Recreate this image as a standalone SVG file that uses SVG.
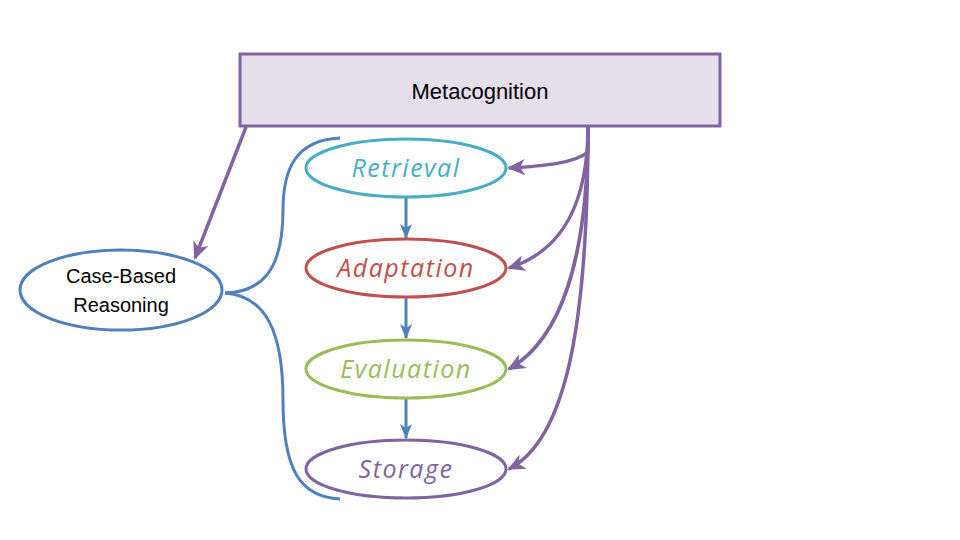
<svg xmlns="http://www.w3.org/2000/svg" width="960" height="540" viewBox="0 0 960 540">
<style>
.sans{font-family:"Liberation Sans",Arial,sans-serif;fill:#000;text-anchor:middle}
.script{font-family:"Open Sans","DejaVu Sans",sans-serif;font-style:italic;font-size:25px;text-anchor:middle;letter-spacing:1.5px}
.node{fill:#fff;stroke-width:3}
.conn{fill:none;stroke-width:3}
.pc{fill:none;stroke-width:3.5;stroke:#8064A2}
</style>
<defs>
<marker id="ap" markerUnits="userSpaceOnUse" markerWidth="20" markerHeight="18" refX="16" refY="8" orient="auto" viewBox="0 0 20 16">
<path d="M0,0 L18,8 L0,16 L5,8 z" fill="#8064A2"/>
</marker>
<marker id="ab" markerUnits="userSpaceOnUse" markerWidth="16" markerHeight="14" refX="14" refY="6" orient="auto" viewBox="0 0 16 12">
<path d="M0,0 L15,6 L0,12 L4,6 z" fill="#4F81BD"/>
</marker>
</defs>
<rect width="960" height="540" fill="#fff"/>
<g id="connectors">
<path class="conn" stroke="#4F81BD" d="M340,138 C295,140 283,170 283,210 C283,270 262,292 225,293"/>
<path class="conn" stroke="#4F81BD" d="M225,293 C265,296 283,330 283,400 C283,470 300,497 340,499"/>
<path class="pc" d="M246,127 L195,258" marker-end="url(#ap)"/>
<path class="pc" d="M588,126 L588,152 C575,163 545,166 509,168" marker-end="url(#ap)"/>
<path class="pc" d="M588,126 C588,200 565,250 509,268" marker-end="url(#ap)"/>
<path class="pc" d="M588,126 C588,260 560,340 509,369" marker-end="url(#ap)"/>
<path class="pc" d="M588,126 C588,330 565,440 509,469" marker-end="url(#ap)"/>
<path class="conn" stroke="#4F81BD" d="M406,198 L406,238" marker-end="url(#ab)"/>
<path class="conn" stroke="#4F81BD" d="M406,298 L406,338" marker-end="url(#ab)"/>
<path class="conn" stroke="#4F81BD" d="M406,399 L406,438" marker-end="url(#ab)"/>
</g>
<g id="metacognition">
<rect x="240" y="54" width="480" height="72" fill="#E5DFEC" stroke="#8064A2" stroke-width="3"/>
<text class="sans" x="480" y="99" font-size="22">Metacognition</text>
</g>
<g id="cbr">
<ellipse class="node" cx="121" cy="290" rx="101" ry="40" stroke="#4F81BD"/>
<text class="sans" x="121" y="283" font-size="20">Case-Based</text>
<text class="sans" x="121" y="312" font-size="20">Reasoning</text>
</g>
<g id="retrieval">
<ellipse class="node" cx="406" cy="168" rx="100" ry="29" stroke="#4BACC6"/>
<text class="script" x="406" y="177" fill="#4BACC6">Retrieval</text>
</g>
<g id="adaptation">
<ellipse class="node" cx="406" cy="268" rx="100" ry="29" stroke="#C0504D"/>
<text class="script" x="406" y="277" fill="#C0504D">Adaptation</text>
</g>
<g id="evaluation">
<ellipse class="node" cx="406" cy="369" rx="100" ry="29" stroke="#9BBB59"/>
<text class="script" x="406" y="378" fill="#9BBB59">Evaluation</text>
</g>
<g id="storage">
<ellipse class="node" cx="406" cy="469" rx="100" ry="29" stroke="#8064A2"/>
<text class="script" x="406" y="478" fill="#8064A2">Storage</text>
</g>
</svg>
